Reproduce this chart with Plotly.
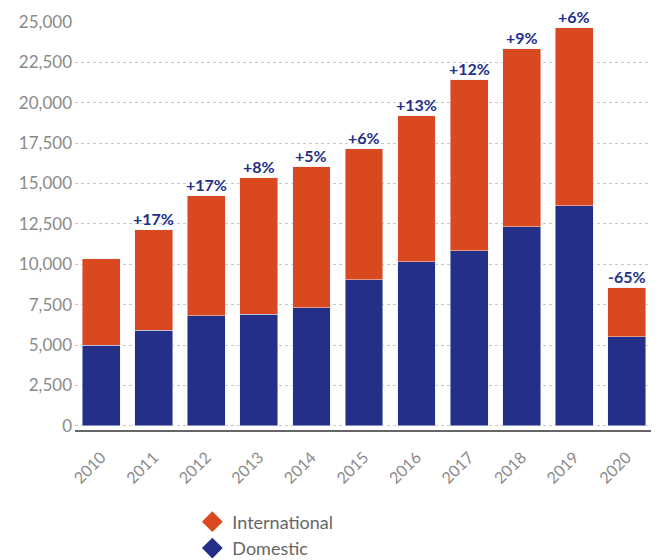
import plotly.graph_objects as go

years = [2010, 2011, 2012, 2013, 2014, 2015, 2016, 2017, 2018, 2019, 2020]
year_labels = ["2010", "2011", "2012", "2013", "2014", "2015", "2016", "2017", "2018", "2019", "2020"]
domestic = [5000, 5930, 6800, 6920, 7300, 9030, 10150, 10830, 12320, 13620, 5500]
international = [5330, 6200, 7440, 8430, 8740, 8120, 9050, 10600, 11030, 11030, 3040]
growth_labels = ["", "+17%", "+17%", "+8%", "+5%", "+6%", "+13%", "+12%", "+9%", "+6%", "-65%"]
y_ticks = [0, 2500, 5000, 7500, 10000, 12500, 15000, 17500, 20000, 22500, 25000]

ORANGE = "#DA481F"
NAVY = "#243087"
FONT = "Lato, 'Open Sans', sans-serif"

fig = go.Figure()
fig.add_trace(go.Bar(x=years, y=domestic, name="Domestic", marker_color=NAVY, showlegend=False))
fig.add_trace(go.Bar(x=years, y=international, name="International", marker_color=ORANGE, showlegend=False))

# legend entries (points placed outside the visible x range)
fig.add_trace(go.Scatter(x=[years[0] - 5], y=[0], mode="markers", name="International",
                         marker=dict(symbol="diamond", size=16, color=ORANGE), cliponaxis=True))
fig.add_trace(go.Scatter(x=[years[0] - 5], y=[0], mode="markers", name="Domestic",
                         marker=dict(symbol="diamond", size=16, color=NAVY), cliponaxis=True))

totals = [d + i for d, i in zip(domestic, international)]
for yr, tot, lab in zip(years, totals, growth_labels):
    if lab:
        fig.add_annotation(x=yr, y=tot, text=f"<b>{lab}</b>", showarrow=False,
                           yanchor="bottom", yshift=0,
                           font=dict(family=FONT, size=16, color=NAVY))

fig.update_layout(
    width=651, height=552,
    barmode="stack", bargap=0.28,
    plot_bgcolor="white", paper_bgcolor="white",
    margin=dict(l=67, r=6, t=14, b=130, autoexpand=False),
    font=dict(family=FONT, color="#888888"),
    legend=dict(x=0.203, y=-0.18, xanchor="left", yanchor="top", orientation="v",
                font=dict(family=FONT, size=18, color="#666666"),
                traceorder="normal", itemsizing="trace"),
    showlegend=True,
)
fig.update_xaxes(
    type="linear", range=[years[0] - 0.5, years[-1] + 0.5],
    tickvals=years, ticktext=year_labels,
    tickangle=-45, showline=True, linecolor="#666666", linewidth=1.5,
    tickfont=dict(family=FONT, size=16, color="#8a8a8a"), showgrid=False, ticks="",
    zeroline=False, ticklabelstandoff=10,
)
fig.update_yaxes(
    range=[-260, 25000], tickvals=y_ticks, ticktext=[f"{v:,}" for v in y_ticks],
    showgrid=True, gridcolor="#c8c8c8", griddash="dot", gridwidth=1,
    zeroline=False, showline=False, ticks="", ticklabelstandoff=2,
    tickfont=dict(family=FONT, size=17, color="#8a8a8a"),
)

fig.write_html("out.html")
